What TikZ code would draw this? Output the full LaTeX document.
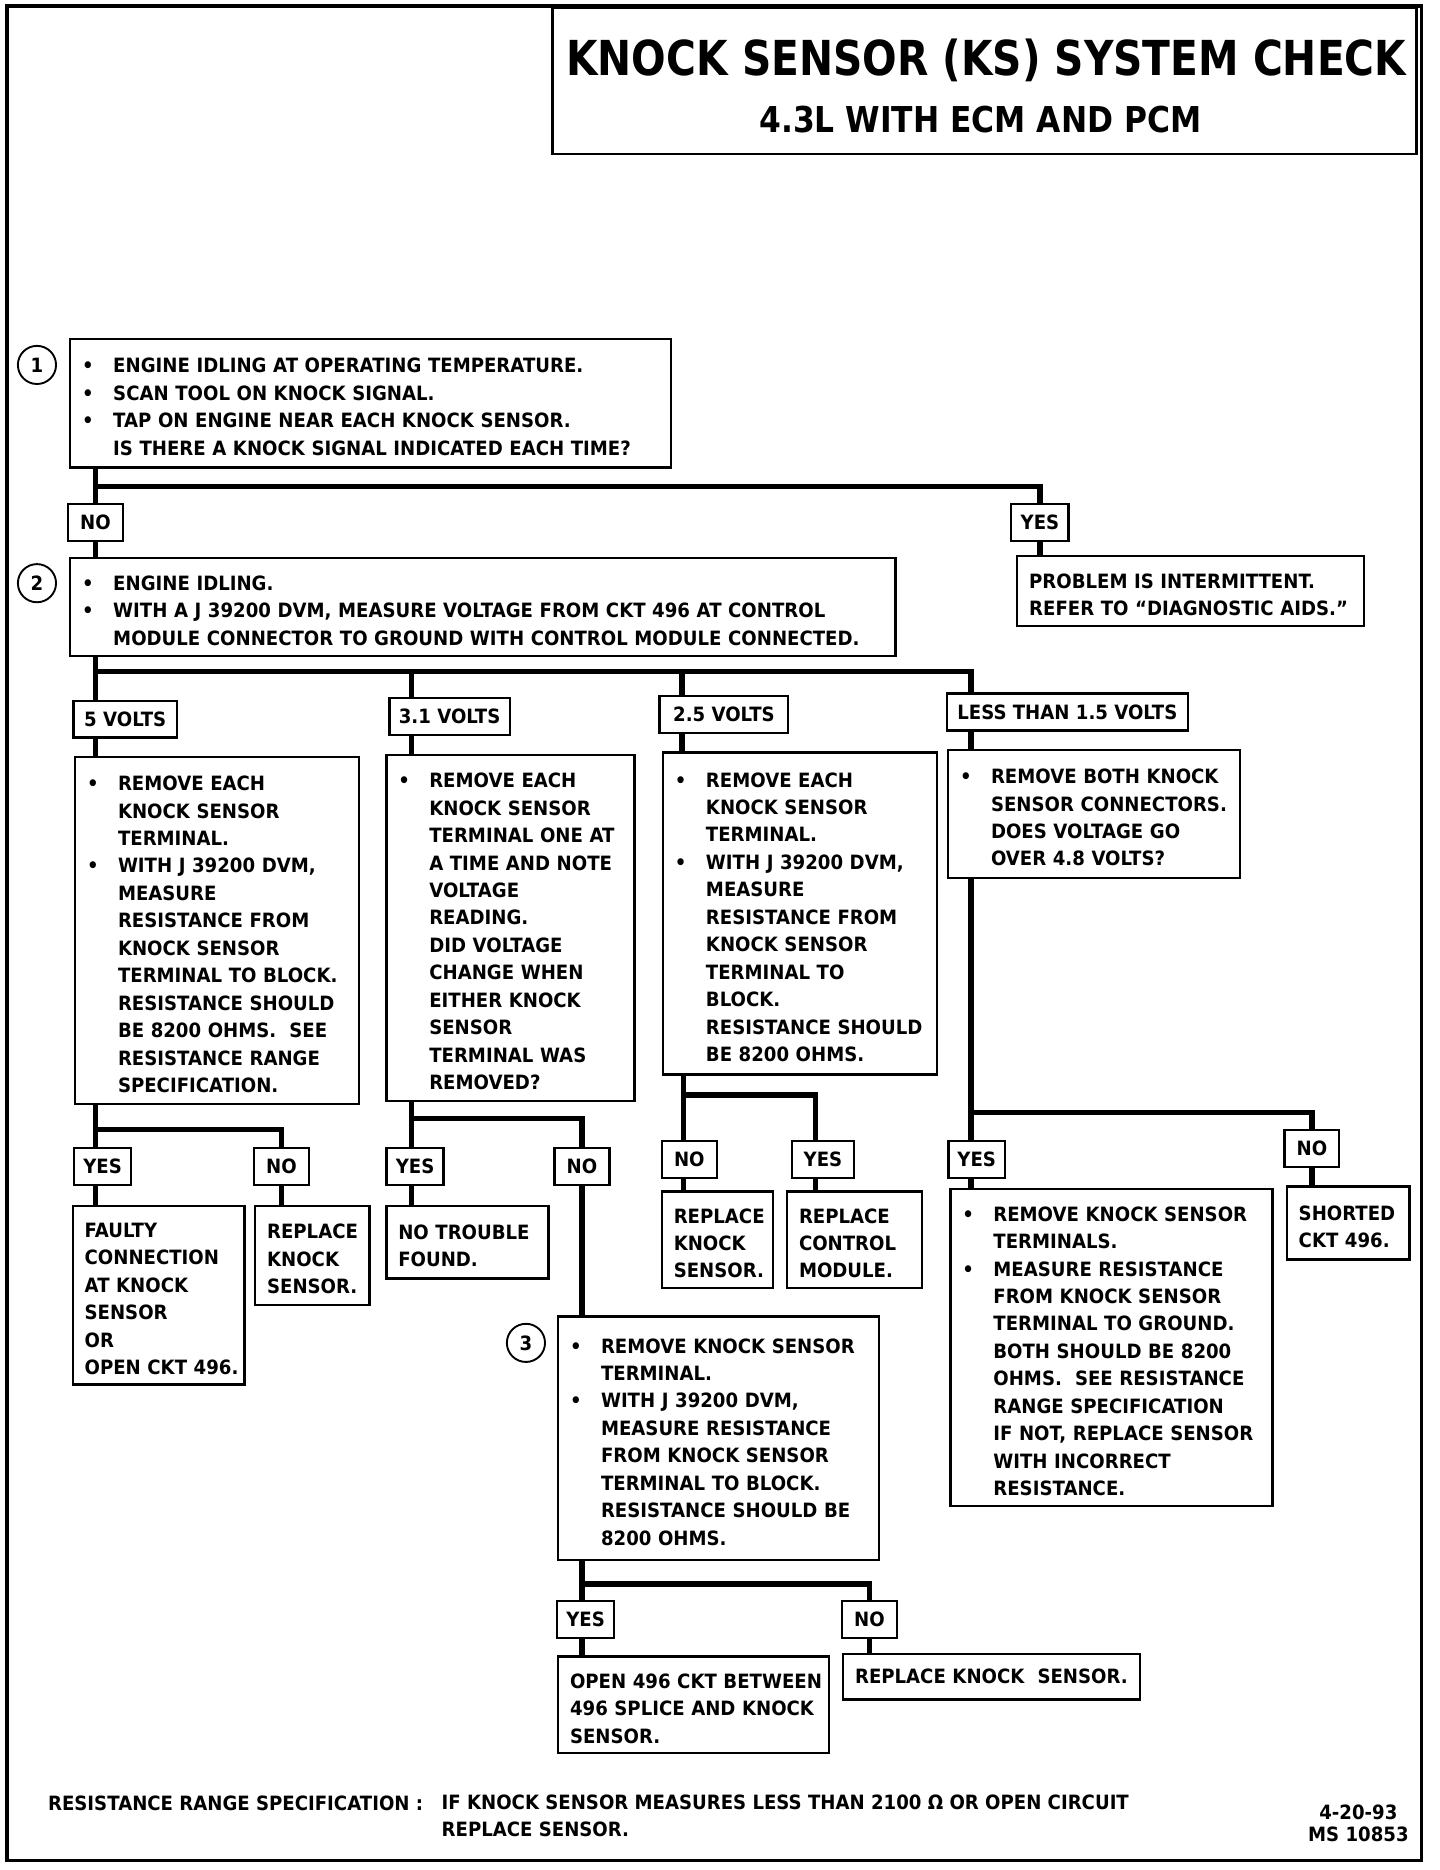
\documentclass[tikz,border=0pt]{standalone}
\usepackage{fontspec}
\setmainfont{DejaVu Sans}[FakeStretch=0.92]
\newcommand{\tx}{\bfseries\fontsize{9.4}{13.1}\selectfont}
\newcommand{\bl}{\makebox[0.52cm][l]{\textbullet}}
\newcommand{\items}[1]{\raisebox{-0.09cm}[\height][\depth]{\begin{tabular}{@{}l@{}l@{}}#1\end{tabular}}}
\newcommand{\rows}[1]{\raisebox{-0.09cm}[\height][\depth]{\begin{tabular}{@{}l@{}}#1\end{tabular}}}

\begin{document}
\begin{tikzpicture}[x=0.02cm, y=-0.02cm,
	box/.style={draw, line width=1.1pt, anchor=north west, align=left, inner xsep=0.2cm, inner ysep=0pt, font=\tx},
	lbl/.style={draw, line width=1.1pt, minimum height=0.62cm, inner xsep=0.15cm, inner ysep=0pt, font=\tx},
	conn/.style={line width=2.6pt},
	num/.style={draw, circle, line width=0.9pt, minimum size=0.64cm, inner sep=0pt, font=\tx}]

	\useasboundingbox (0,0) rectangle (1207,1568);
	\draw[line width=1.7pt] (6,5) rectangle (1192,1560);

	% titulo
	\node[draw, line width=1.3pt, anchor=north west, minimum width=14.5cm, minimum height=2.46cm] (title) at (462,5) {};
	\node[anchor=base, font=\bfseries\fontsize{23}{27}\selectfont] (ttl) at (827,63) {\scalebox{0.918}[1]{KNOCK SENSOR (KS) SYSTEM CHECK}};
	\node[anchor=base, font=\bfseries\fontsize{17}{20}\selectfont] (sub) at (822,111) {\scalebox{0.956}[1]{4.3L WITH ECM AND PCM}};

	% paso 1
	\node[num] (s1) at (31,306) {1};
	\node[box, text width=9.68cm, minimum height=2.16cm] (b1) at (58,283) {\items{
		\bl & ENGINE IDLING AT OPERATING TEMPERATURE.\\
		\bl & SCAN TOOL ON KNOCK SIGNAL.\\
		\bl & TAP ON ENGINE NEAR EACH KNOCK SENSOR.\\
		& IS THERE A KNOCK SIGNAL INDICATED EACH TIME?}};
	\node[lbl, minimum width=0.92cm] (no1) at (80,438) {NO};
	\node[lbl, minimum width=0.96cm] (yes1) at (872,438) {YES};
	\node[box, text width=5.42cm, minimum height=1.18cm] (res1) at (852,465) {\rows{
		PROBLEM IS INTERMITTENT.\\
		REFER TO “DIAGNOSTIC AIDS.”}};

	% paso 2
	\node[num] (s2) at (31,489) {2};
	\node[box, text width=13.44cm, minimum height=1.64cm] (b2) at (58,467) {\items{
		\bl & ENGINE IDLING.\\
		\bl & WITH A J 39200 DVM, MEASURE VOLTAGE FROM CKT 496 AT CONTROL\\
		& MODULE CONNECTOR TO GROUND WITH CONTROL MODULE CONNECTED.}};

	\node[lbl, minimum width=1.74cm] (v1) at (105,603) {5 VOLTS};
	\node[lbl, minimum width=2.02cm] (v2) at (377,601) {3.1 VOLTS};
	\node[lbl, minimum width=2.16cm] (v3) at (607,599) {2.5 VOLTS};
	\node[lbl, minimum width=4.04cm] (v4) at (895,597) {LESS THAN 1.5 VOLTS};

	\node[box, text width=4.36cm, minimum height=5.82cm] (bA) at (62,634) {\items{
		\bl & REMOVE EACH\\
		& KNOCK SENSOR\\
		& TERMINAL.\\
		\bl & WITH J 39200 DVM,\\
		& MEASURE\\
		& RESISTANCE FROM\\
		& KNOCK SENSOR\\
		& TERMINAL TO BLOCK.\\
		& RESISTANCE SHOULD\\
		& BE 8200 OHMS.~ SEE\\
		& RESISTANCE RANGE\\
		& SPECIFICATION.}};
	\node[box, text width=3.76cm, minimum height=5.80cm] (bB) at (323,632) {\items{
		\bl & REMOVE EACH\\
		& KNOCK SENSOR\\
		& TERMINAL ONE AT\\
		& A TIME AND NOTE\\
		& VOLTAGE\\
		& READING.\\
		& DID VOLTAGE\\
		& CHANGE WHEN\\
		& EITHER KNOCK\\
		& SENSOR\\
		& TERMINAL WAS\\
		& REMOVED?}};
	\node[box, text width=4.20cm, minimum height=5.40cm] (bC) at (555,630) {\items{
		\bl & REMOVE EACH\\
		& KNOCK SENSOR\\
		& TERMINAL.\\
		\bl & WITH J 39200 DVM,\\
		& MEASURE\\
		& RESISTANCE FROM\\
		& KNOCK SENSOR\\
		& TERMINAL TO\\
		& BLOCK.\\
		& RESISTANCE SHOULD\\
		& BE 8200 OHMS.}};
	\node[box, text width=4.50cm, minimum height=2.14cm] (bD) at (794,628) {\items{
		\bl & REMOVE BOTH KNOCK\\
		& SENSOR CONNECTORS.\\
		& DOES VOLTAGE GO\\
		& OVER 4.8 VOLTS?}};

	% respuestas
	\node[lbl, minimum width=0.96cm] (yA) at (86,978) {YES};
	\node[lbl, minimum width=0.92cm] (nA) at (236,978) {NO};
	\node[lbl, minimum width=0.96cm] (yB) at (348,978) {YES};
	\node[lbl, minimum width=0.92cm] (nB) at (488,978) {NO};
	\node[lbl, minimum width=0.92cm] (nC) at (578,972) {NO};
	\node[lbl, minimum width=1.04cm] (yC) at (690,972) {YES};
	\node[lbl, minimum width=0.94cm] (yD) at (819,972) {YES};
	\node[lbl, minimum width=0.92cm] (nD) at (1100,963) {NO};

	\node[box, text width=2.48cm, minimum height=3.00cm] (rA1) at (60,1010) {\rows{
		FAULTY\\ CONNECTION\\ AT KNOCK\\ SENSOR\\ OR\\ OPEN CKT 496.}};
	\node[box, text width=1.52cm, minimum height=1.66cm] (rA2) at (213,1010) {\rows{
		REPLACE\\ KNOCK\\ SENSOR.}};
	\node[box, text width=2.32cm, minimum height=1.22cm] (rB1) at (323,1010) {\rows{
		NO TROUBLE\\ FOUND.}};
	\node[box, text width=1.46cm, minimum height=1.62cm] (rC1) at (554,998) {\rows{
		REPLACE\\ KNOCK\\ SENSOR.}};
	\node[box, text width=1.86cm, minimum height=1.62cm] (rC2) at (659,998) {\rows{
		REPLACE\\ CONTROL\\ MODULE.}};
	\node[box, text width=5.00cm, minimum height=5.32cm] (rD1) at (796,996) {\items{
		\bl & REMOVE KNOCK SENSOR\\
		& TERMINALS.\\
		\bl & MEASURE RESISTANCE\\
		& FROM KNOCK SENSOR\\
		& TERMINAL TO GROUND.\\
		& BOTH SHOULD BE 8200\\
		& OHMS.~ SEE RESISTANCE\\
		& RANGE SPECIFICATION\\
		& IF NOT, REPLACE SENSOR\\
		& WITH INCORRECT\\
		& RESISTANCE.}};
	\node[box, text width=1.66cm, minimum height=1.22cm] (rD2) at (1078,994) {\rows{
		SHORTED\\ CKT 496.}};

	% paso 3
	\node[num] (s3) at (441,1126) {3};
	\node[box, text width=4.98cm, minimum height=4.08cm] (b3) at (467,1103) {\items{
		\bl & REMOVE KNOCK SENSOR\\
		& TERMINAL.\\
		\bl & WITH J 39200 DVM,\\
		& MEASURE RESISTANCE\\
		& FROM KNOCK SENSOR\\
		& TERMINAL TO BLOCK.\\
		& RESISTANCE SHOULD BE\\
		& 8200 OHMS.}};
	\node[lbl, minimum width=0.96cm] (y3) at (491,1358) {YES};
	\node[lbl, minimum width=0.92cm] (n3) at (729,1358) {NO};
	\node[box, text width=4.14cm, minimum height=1.62cm] (r31) at (467,1388) {\rows{
		OPEN 496 CKT BETWEEN\\ 496 SPLICE AND KNOCK\\ SENSOR.}};
	\node[box, text width=4.58cm, minimum height=0.76cm] (r32) at (706,1386) {REPLACE KNOCK~ SENSOR.};

	% lineas
	\coordinate (j1) at (80,408);
	\draw[conn] (j1 |- b1.south) -- (no1.north);
	\draw[conn] (no1.south) -- (no1.south |- b2.north);
	\draw[conn] (j1) -| (yes1.north);
	\draw[conn] (yes1.south) -- (yes1.south |- res1.north);

	\coordinate (j2) at (80,563);
	\coordinate (k2) at (345,563);
	\coordinate (l2) at (572,563);
	\coordinate (m2) at (814,563);
	\draw[conn] (j2 |- b2.south) -- (j2 |- v1.north);
	\draw[conn] (j2) -- (m2) -- (m2 |- v4.north);
	\draw[conn] (k2) -- (k2 |- v2.north);
	\draw[conn] (l2) -- (l2 |- v3.north);
	\draw[conn] (j2 |- v1.south) -- (j2 |- bA.north);
	\draw[conn] (k2 |- v2.south) -- (k2 |- bB.north);
	\draw[conn] (l2 |- v3.south) -- (l2 |- bC.north);
	\draw[conn] (m2 |- v4.south) -- (m2 |- bD.north);

	\coordinate (ja) at (80,947);
	\draw[conn] (ja |- bA.south) -- (ja |- yA.north);
	\draw[conn] (ja) -| (nA.north);
	\draw[conn] (ja |- yA.south) -- (ja |- rA1.north);
	\draw[conn] (nA.south) -- (nA.south |- rA2.north);

	\coordinate (jb) at (345,938);
	\draw[conn] (jb |- bB.south) -- (jb |- yB.north);
	\draw[conn] (jb) -| (nB.north);
	\draw[conn] (jb |- yB.south) -- (jb |- rB1.north);
	\draw[conn] (nB.south) -- (nB.south |- b3.north);

	\coordinate (jc) at (573,918);
	\coordinate (kc) at (684,918);
	\draw[conn] (jc |- bC.south) -- (jc |- nC.north);
	\draw[conn] (jc) -- (kc) -- (kc |- yC.north);
	\draw[conn] (jc |- nC.south) -- (jc |- rC1.north);
	\draw[conn] (kc |- yC.south) -- (kc |- rC2.north);

	\coordinate (jd) at (814,933);
	\coordinate (kd) at (1100,933);
	\draw[conn] (jd |- bD.south) -- (jd |- yD.north);
	\draw[conn] (jd) -- (kd) -- (kd |- nD.north);
	\draw[conn] (jd |- yD.south) -- (jd |- rD1.north);
	\draw[conn] (kd |- nD.south) -- (kd |- rD2.north);

	\coordinate (j3) at (488,1328);
	\coordinate (k3) at (729,1328);
	\draw[conn] (j3 |- b3.south) -- (j3 |- y3.north);
	\draw[conn] (j3) -- (k3) -- (k3 |- n3.north);
	\draw[conn] (j3 |- y3.south) -- (j3 |- r31.north);
	\draw[conn] (k3 |- n3.south) -- (k3 |- r32.north);

	% pie
	\node[anchor=base west, inner sep=0pt, font=\tx] (spec) at (40,1518) {RESISTANCE RANGE SPECIFICATION :};
	\node[anchor=base west, inner sep=0pt, font=\tx] (spectxt) at (370,1517) {\begin{tabular}[t]{@{}l@{}}
		IF KNOCK SENSOR MEASURES LESS THAN 2100 Ω OR OPEN CIRCUIT\\
		REPLACE SENSOR.\end{tabular}};
	\node[anchor=base, inner sep=0pt, font=\bfseries\fontsize{9.4}{10.2}\selectfont] (date) at (1139,1526) {\begin{tabular}[t]{@{}c@{}}
		4-20-93\\ MS 10853\end{tabular}};
\end{tikzpicture}
\end{document}
